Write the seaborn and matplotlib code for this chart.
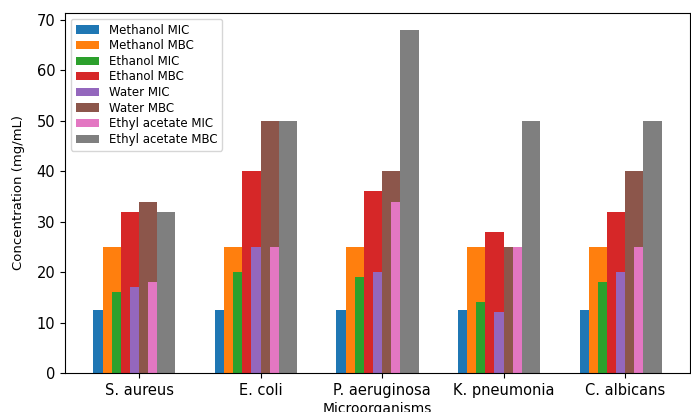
import matplotlib
matplotlib.use("Agg")
import matplotlib.pyplot as plt
import numpy as np
import pandas as pd
import seaborn as sns

# Data
organisms = ["S. aureus", "E. coli", "P. aeruginosa", "K. pneumonia", "C. albicans"]
series_names = [
    "Methanol MIC", "Methanol MBC", "Ethanol MIC", "Ethanol MBC",
    "Water MIC", "Water MBC", "Ethyl acetate MIC", "Ethyl acetate MBC",
]
methanol_mic = [12.5, 12.5, 12.5, 12.5, 12.5]
methanol_mbc = [25, 25, 25, 25, 25]
ethanol_mic = [16, 20, 19, 14, 18]
ethanol_mbc = [32, 40, 36, 28, 32]
water_mic = [17, 25, 20, 12, 20]
water_mbc = [34, 50, 40, 25, 40]
ethyl_acetate_mic = [18, 25, 34, 25, 25]
ethyl_acetate_mbc = [32, 50, 68, 50, 50]

series_values = [
    methanol_mic, methanol_mbc, ethanol_mic, ethanol_mbc,
    water_mic, water_mbc, ethyl_acetate_mic, ethyl_acetate_mbc,
]

colors = sns.color_palette("tab10", 8)
bar_width = 0.15

fig = plt.figure(figsize=(6.91, 4.12), dpi=100)
ax = fig.add_axes([65 / 691, 39 / 412, 625 / 691, 360 / 412])

# overlapping bars: each series shifted by half a bar width
x = np.arange(len(organisms))
for i, (name, vals) in enumerate(zip(series_names, series_values)):
    df = pd.DataFrame({"pos": x + (i - 4) * bar_width / 2, "value": vals})
    sns.barplot(
        data=df, x="pos", y="value", native_scale=True, width=bar_width,
        color=colors[i], saturation=1, label=name, errorbar=None, ax=ax,
    )

ax.set_xticks(x)
ax.set_xticklabels(organisms, fontsize=10.5)
ax.tick_params(axis="y", labelsize=10.5)
ax.set_xlim(-0.609, 4.534)
ax.set_ylim(0, 71.4)
ax.set_yticks(range(0, 71, 10))
ax.set_xlabel("Microorganisms", fontsize=10, labelpad=3)
ax.set_ylabel("Concentration (mg/mL)", fontsize=9.5, labelpad=8)
ax.legend(loc="upper left", fontsize=8.5, labelspacing=0.22)

fig.savefig("out.png", dpi=100)
